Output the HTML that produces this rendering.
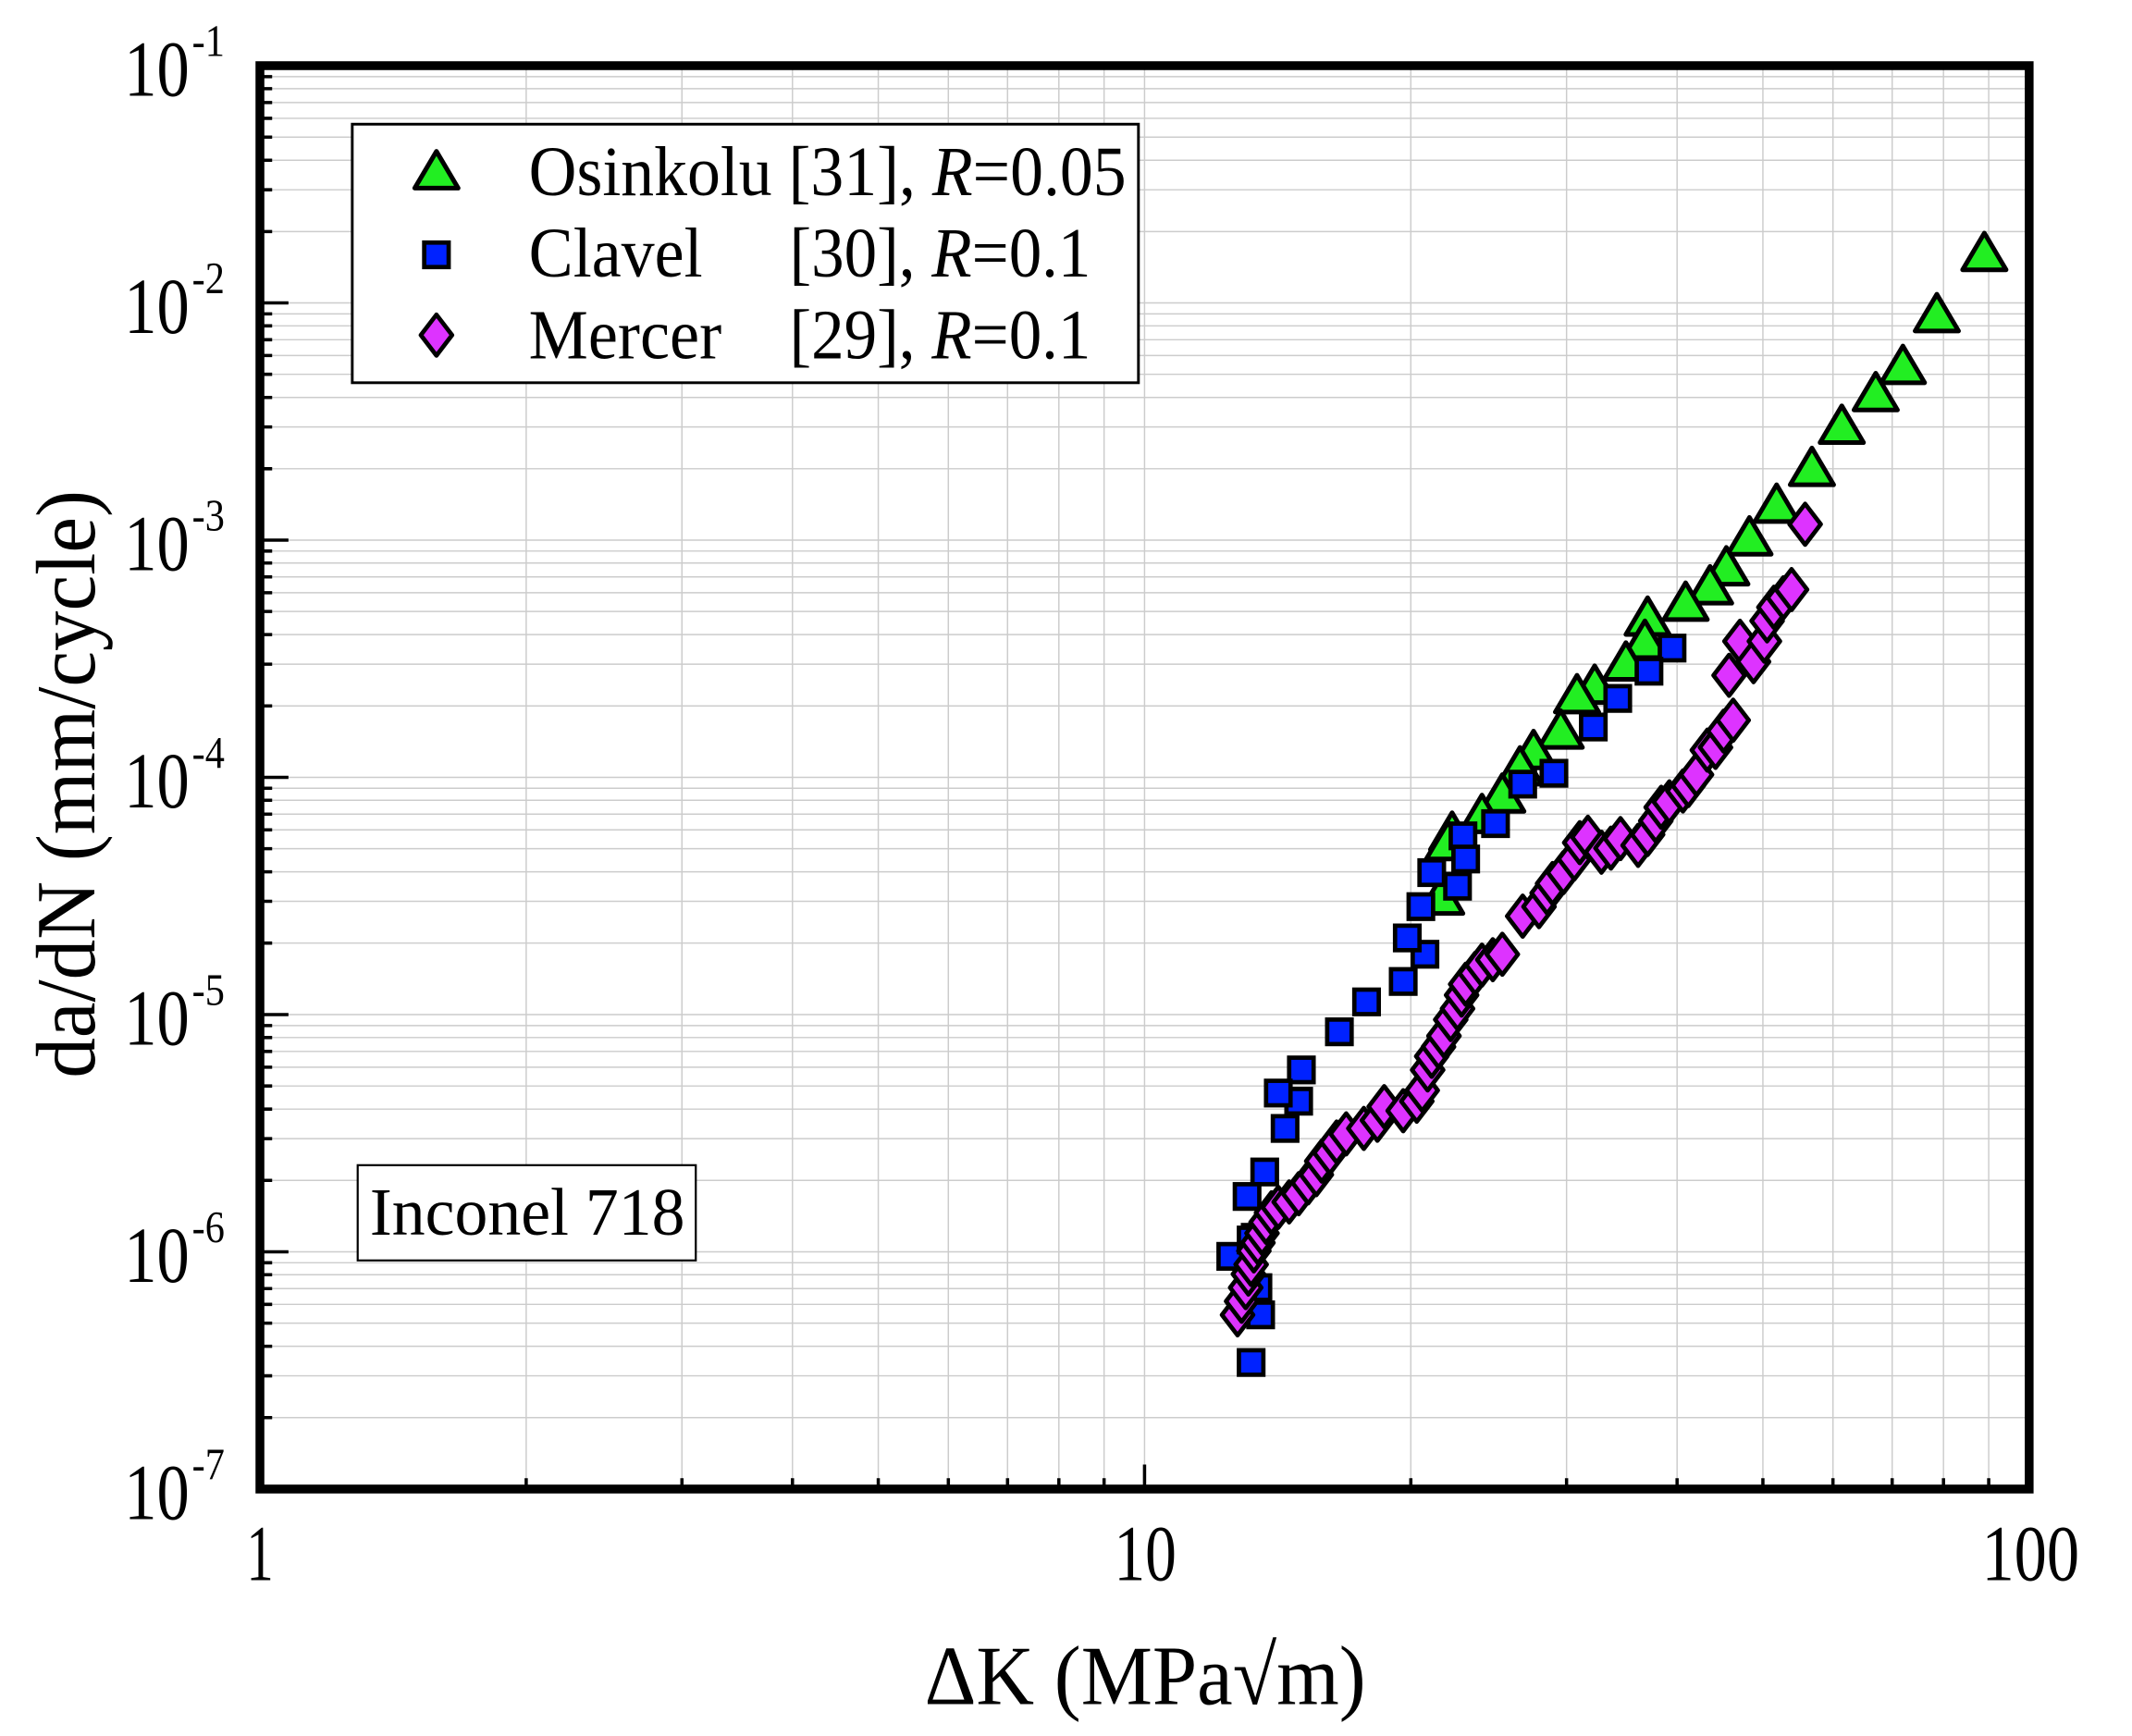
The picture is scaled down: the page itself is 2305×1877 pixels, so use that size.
<!DOCTYPE html>
<html><head><meta charset="utf-8"><style>html,body{margin:0;padding:0;background:#fff}svg{display:block}</style></head>
<body>
<svg xmlns="http://www.w3.org/2000/svg" width="2305" height="1877" viewBox="0 0 2305 1877">
<defs>
<path id="tri" d="M0,-17 L16,10 L-16,10 Z" fill="#22ee22" stroke="#000" stroke-width="3.4" stroke-linejoin="round"/>
<rect id="sq" x="-9" y="-9" width="18" height="18" fill="#0022ff" stroke="#000" stroke-width="3.2"/>
<path id="dia" d="M0,-15 L11.5,0 L0,15 L-11.5,0 Z" fill="#dd33ff" stroke="#000" stroke-width="3.2" stroke-linejoin="round"/>
</defs>
<g transform="translate(2.1,1.85) scale(1.468,1.4713)" font-family="'Liberation Serif', serif">
<rect x="0" y="0" width="1570" height="1276" fill="#fff"/>
<g stroke="#cccccc" stroke-width="1" fill="none">
<path d="M386.1,47V1093M500.8,47V1093M582.2,47V1093M645.4,47V1093M697,47V1093M740.6,47V1093M778.4,47V1093M811.7,47V1093M841.5,47V1093M1037.6,47V1093M1152.3,47V1093M1233.7,47V1093M1296.9,47V1093M1348.5,47V1093M1392.1,47V1093M1429.9,47V1093M1463.2,47V1093"/>
<path d="M190,1040.5H1493M190,1009.8H1493M190,988.1H1493M190,971.1H1493M190,957.3H1493M190,945.7H1493M190,935.5H1493M190,926.7H1493M190,918.67H1493
M190,866.2H1493M190,835.5H1493M190,813.8H1493M190,796.8H1493M190,783H1493M190,771.4H1493M190,761.2H1493M190,752.4H1493M190,744.34H1493
M190,691.8H1493M190,661.1H1493M190,639.4H1493M190,622.4H1493M190,608.6H1493M190,597H1493M190,586.8H1493M190,578H1493M190,570H1493
M190,517.5H1493M190,486.8H1493M190,465.1H1493M190,448.1H1493M190,434.3H1493M190,422.7H1493M190,412.5H1493M190,403.7H1493M190,395.68H1493
M190,343.2H1493M190,312.5H1493M190,290.8H1493M190,273.8H1493M190,260H1493M190,248.4H1493M190,238.2H1493M190,229.4H1493M190,221.35H1493
M190,168.9H1493M190,138.2H1493M190,116.5H1493M190,99.5H1493M190,85.7H1493M190,74.1H1493M190,63.9H1493M190,55.1H1493"/>
</g>
<g stroke="#000" stroke-width="2.4" fill="none">
<path d="M386.1,1093v-8M500.8,1093v-8M582.2,1093v-8M645.4,1093v-8M697,1093v-8M740.6,1093v-8M778.4,1093v-8M811.7,1093v-8M841.5,1093v-18M1037.6,1093v-8M1152.3,1093v-8M1233.7,1093v-8M1296.9,1093v-8M1348.5,1093v-8M1392.1,1093v-8M1429.9,1093v-8M1463.2,1093v-8"/>
<path d="M190,1040.5h9M190,1009.8h9M190,988.1h9M190,971.1h9M190,957.3h9M190,945.7h9M190,935.5h9M190,926.7h9M190,918.67h21
M190,866.2h9M190,835.5h9M190,813.8h9M190,796.8h9M190,783h9M190,771.4h9M190,761.2h9M190,752.4h9M190,744.34h21
M190,691.8h9M190,661.1h9M190,639.4h9M190,622.4h9M190,608.6h9M190,597h9M190,586.8h9M190,578h9M190,570h21
M190,517.5h9M190,486.8h9M190,465.1h9M190,448.1h9M190,434.3h9M190,422.7h9M190,412.5h9M190,403.7h9M190,395.68h21
M190,343.2h9M190,312.5h9M190,290.8h9M190,273.8h9M190,260h9M190,248.4h9M190,238.2h9M190,229.4h9M190,221.35h21
M190,168.9h9M190,138.2h9M190,116.5h9M190,99.5h9M190,85.7h9M190,74.1h9M190,63.9h9M190,55.1h9"/>
</g>
<rect x="190" y="47" width="1303" height="1046" fill="none" stroke="#000" stroke-width="6.5"/>
<g font-size="58" text-anchor="end">
<text x="138" y="69" textLength="48" lengthAdjust="spacingAndGlyphs">10</text>
<text x="138" y="243.3" textLength="48" lengthAdjust="spacingAndGlyphs">10</text>
<text x="138" y="417.7" textLength="48" lengthAdjust="spacingAndGlyphs">10</text>
<text x="138" y="592" textLength="48" lengthAdjust="spacingAndGlyphs">10</text>
<text x="138" y="766.3" textLength="48" lengthAdjust="spacingAndGlyphs">10</text>
<text x="138" y="940.7" textLength="48" lengthAdjust="spacingAndGlyphs">10</text>
<text x="138" y="1115" textLength="48" lengthAdjust="spacingAndGlyphs">10</text>
</g>
<g font-size="33" text-anchor="start">
<text x="140" y="40" textLength="24" lengthAdjust="spacingAndGlyphs">-1</text>
<text x="140" y="214.3" textLength="24" lengthAdjust="spacingAndGlyphs">-2</text>
<text x="140" y="388.7" textLength="24" lengthAdjust="spacingAndGlyphs">-3</text>
<text x="140" y="563" textLength="24" lengthAdjust="spacingAndGlyphs">-4</text>
<text x="140" y="737.3" textLength="24" lengthAdjust="spacingAndGlyphs">-5</text>
<text x="140" y="911.7" textLength="24" lengthAdjust="spacingAndGlyphs">-6</text>
<text x="140" y="1086" textLength="24" lengthAdjust="spacingAndGlyphs">-7</text>
</g>
<g font-size="58" text-anchor="middle">
<text x="190" y="1160" textLength="20" lengthAdjust="spacingAndGlyphs">1</text>
<text x="842" y="1160" textLength="46" lengthAdjust="spacingAndGlyphs">10</text>
<text x="1494" y="1160" textLength="72" lengthAdjust="spacingAndGlyphs">100</text>
</g>
<text x="842" y="1251" font-size="62" text-anchor="middle" textLength="325" lengthAdjust="spacingAndGlyphs">ΔK (MPa√m)</text>
<text transform="translate(68,575) rotate(-90)" font-size="62" text-anchor="middle" textLength="432" lengthAdjust="spacingAndGlyphs">da/dN (mm/cycle)</text>
<rect x="258" y="90" width="579" height="190" fill="#fff" stroke="#000" stroke-width="2"/>
<use href="#tri" x="320" y="127"/>
<use href="#sq" x="320" y="186"/>
<use href="#dia" x="320" y="245"/>
<g font-size="52">
<text x="388" y="142" textLength="440" lengthAdjust="spacingAndGlyphs">Osinkolu [31], <tspan font-style="italic">R</tspan>=0.05</text>
<text x="388" y="202" textLength="128" lengthAdjust="spacingAndGlyphs">Clavel</text><text x="580" y="202" textLength="222" lengthAdjust="spacingAndGlyphs">[30], <tspan font-style="italic">R</tspan>=0.1</text>
<text x="388" y="262" textLength="142" lengthAdjust="spacingAndGlyphs">Mercer</text><text x="580" y="262" textLength="222" lengthAdjust="spacingAndGlyphs">[29], <tspan font-style="italic">R</tspan>=0.1</text>
</g>
<rect x="262" y="855" width="249" height="70" fill="#fff" stroke="#000" stroke-width="1.5"/>
<text x="387" y="906" font-size="50" text-anchor="middle" textLength="232" lengthAdjust="spacingAndGlyphs">Inconel 718</text>
<g>
<use href="#tri" x="1460" y="187"/><use href="#tri" x="1425" y="232"/><use href="#tri" x="1400" y="270"/><use href="#tri" x="1380" y="290"/><use href="#tri" x="1355" y="314"/><use href="#tri" x="1333" y="345"/><use href="#tri" x="1307" y="372"/><use href="#tri" x="1287" y="396"/><use href="#tri" x="1270" y="418"/><use href="#tri" x="1258" y="432"/><use href="#tri" x="1240" y="444"/><use href="#tri" x="1212" y="455"/><use href="#tri" x="1210" y="472"/><use href="#tri" x="1196" y="488"/><use href="#tri" x="1173" y="505"/><use href="#tri" x="1160" y="512"/><use href="#tri" x="1148" y="538"/><use href="#tri" x="1128" y="553"/><use href="#tri" x="1118" y="565"/><use href="#tri" x="1105" y="585"/><use href="#tri" x="1090" y="600"/><use href="#tri" x="1068" y="613"/><use href="#tri" x="1065" y="620"/><use href="#tri" x="1060" y="660"/>
</g>
<g>
<use href="#sq" x="1230" y="475"/><use href="#sq" x="1213" y="492"/><use href="#sq" x="1190" y="512"/><use href="#sq" x="1172" y="533"/><use href="#sq" x="1143" y="567"/><use href="#sq" x="1120" y="575"/><use href="#sq" x="1100" y="604"/><use href="#sq" x="1076" y="613"/><use href="#sq" x="1078" y="630"/><use href="#sq" x="1072" y="650"/><use href="#sq" x="1053" y="640"/><use href="#sq" x="1045" y="665"/><use href="#sq" x="1048" y="700"/><use href="#sq" x="1035" y="688"/><use href="#sq" x="1032" y="720"/><use href="#sq" x="1005" y="735"/><use href="#sq" x="985" y="757"/><use href="#sq" x="957" y="785"/><use href="#sq" x="955" y="808"/><use href="#sq" x="945" y="828"/><use href="#sq" x="940" y="802"/><use href="#sq" x="930" y="860"/><use href="#sq" x="917" y="878"/><use href="#sq" x="923" y="908"/><use href="#sq" x="905" y="922"/><use href="#sq" x="925" y="945"/><use href="#sq" x="927" y="965"/><use href="#sq" x="920" y="1000"/><use href="#sq" x="920" y="910"/>
</g>
<g>
<use href="#dia" x="910" y="965"/><use href="#dia" x="913" y="955"/><use href="#dia" x="916" y="945"/><use href="#dia" x="918" y="935"/><use href="#dia" x="920" y="928"/><use href="#dia" x="922" y="918"/><use href="#dia" x="925" y="912"/><use href="#dia" x="928" y="905"/><use href="#dia" x="931" y="897"/><use href="#dia" x="935" y="890"/><use href="#dia" x="940" y="886"/><use href="#dia" x="948" y="882"/><use href="#dia" x="955" y="876"/><use href="#dia" x="962" y="868"/><use href="#dia" x="968" y="862"/><use href="#dia" x="972" y="852"/><use href="#dia" x="978" y="846"/><use href="#dia" x="983" y="838"/><use href="#dia" x="990" y="832"/><use href="#dia" x="1003" y="828"/><use href="#dia" x="1013" y="822"/><use href="#dia" x="1018" y="812"/><use href="#dia" x="1032" y="815"/><use href="#dia" x="1042" y="808"/><use href="#dia" x="1046" y="800"/><use href="#dia" x="1050" y="785"/><use href="#dia" x="1053" y="775"/><use href="#dia" x="1058" y="768"/><use href="#dia" x="1062" y="760"/><use href="#dia" x="1067" y="748"/><use href="#dia" x="1072" y="740"/><use href="#dia" x="1075" y="730"/><use href="#dia" x="1078" y="722"/><use href="#dia" x="1085" y="714"/><use href="#dia" x="1090" y="708"/><use href="#dia" x="1098" y="704"/><use href="#dia" x="1105" y="700"/><use href="#dia" x="1120" y="672"/><use href="#dia" x="1132" y="665"/><use href="#dia" x="1138" y="655"/><use href="#dia" x="1142" y="648"/><use href="#dia" x="1150" y="640"/><use href="#dia" x="1158" y="630"/><use href="#dia" x="1162" y="618"/><use href="#dia" x="1168" y="614"/><use href="#dia" x="1178" y="625"/><use href="#dia" x="1185" y="622"/><use href="#dia" x="1192" y="615"/><use href="#dia" x="1205" y="620"/><use href="#dia" x="1212" y="612"/><use href="#dia" x="1218" y="602"/><use href="#dia" x="1222" y="592"/><use href="#dia" x="1228" y="588"/><use href="#dia" x="1238" y="580"/><use href="#dia" x="1242" y="576"/><use href="#dia" x="1248" y="568"/><use href="#dia" x="1256" y="550"/><use href="#dia" x="1262" y="548"/><use href="#dia" x="1268" y="536"/><use href="#dia" x="1275" y="528"/><use href="#dia" x="1272" y="495"/><use href="#dia" x="1280" y="470"/><use href="#dia" x="1290" y="485"/><use href="#dia" x="1298" y="470"/><use href="#dia" x="1300" y="455"/><use href="#dia" x="1305" y="445"/><use href="#dia" x="1312" y="438"/><use href="#dia" x="1318" y="432"/><use href="#dia" x="1328" y="384"/>
</g>
</g>
</svg>
</body></html>
